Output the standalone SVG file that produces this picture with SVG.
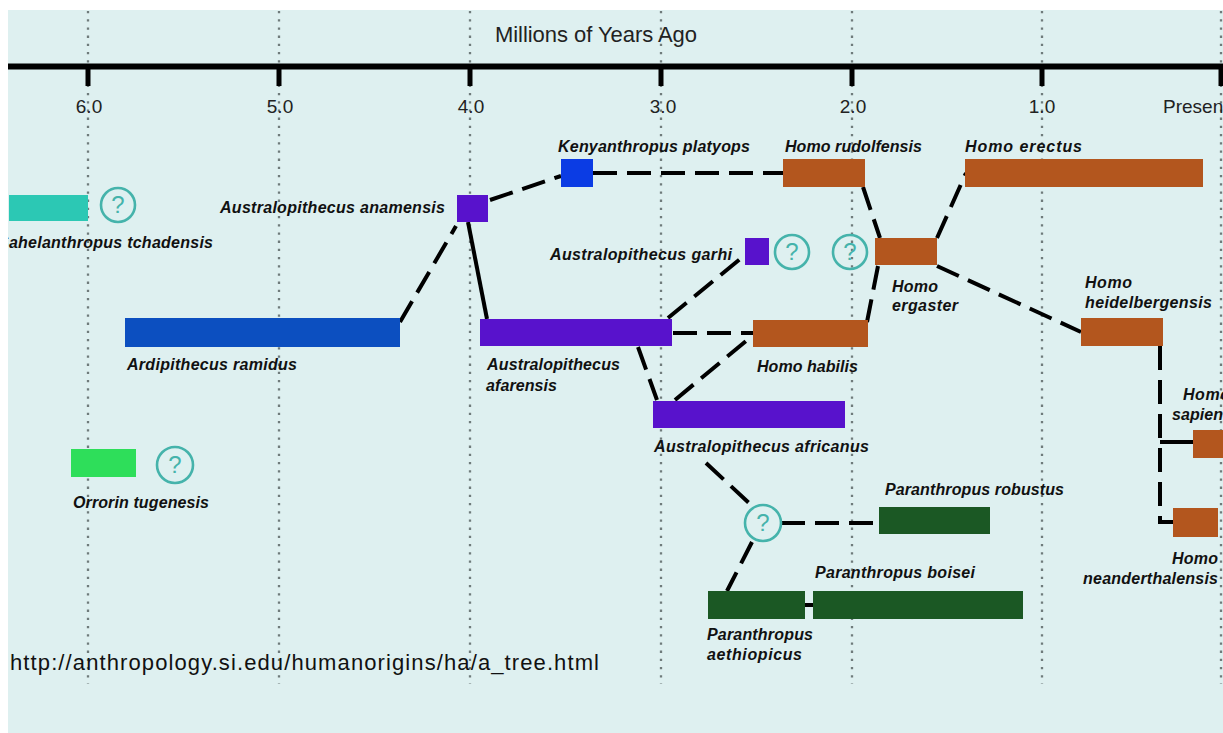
<svg xmlns="http://www.w3.org/2000/svg" width="1223" height="733" viewBox="0 0 1223 733">
<defs>
<style>
.bg{fill:#def0f0}
.grid{stroke:#6f7b7b;stroke-width:2.3;stroke-dasharray:2.3 5.9;fill:none}
.axis{stroke:#000;stroke-width:6;fill:none}
.tick{stroke:#000;stroke-width:5;fill:none}
.ax{font-family:"Liberation Sans",Arial,sans-serif;font-size:19px;fill:#222}
.title{font-family:"Liberation Sans",Arial,sans-serif;font-size:22px;fill:#222}
.lbl{font-family:"Liberation Sans",Arial,sans-serif;font-size:16px;font-weight:bold;font-style:italic;fill:#111}
.url{font-family:"Liberation Sans",Arial,sans-serif;font-size:22px;fill:#111}
.dash{stroke:#000;stroke-width:4;fill:none;stroke-dasharray:24 10}
.solid{stroke:#000;stroke-width:4;fill:none}
.q circle{fill:none;stroke:#45b3ab;stroke-width:2.6}
.q text{font-family:"Liberation Sans",Arial,sans-serif;font-size:24px;fill:#45b3ab;text-anchor:middle}
.teal{fill:#2cc8b4}
.ardi{fill:#0c4fc0}
.kenya{fill:#0b3ce4}
.purple{fill:#5812cc}
.brown{fill:#b3561e}
.lgreen{fill:#2ede5a}
.dgreen{fill:#1b5824}
</style>
<clipPath id="bgclip"><rect x="8" y="10" width="1215" height="723"/></clipPath>
</defs>

<rect class="bg" x="8" y="10" width="1215" height="723"/>

<g id="grid">
<line class="grid" x1="88" y1="11" x2="88" y2="684"/>
<line class="grid" x1="279" y1="11" x2="279" y2="684"/>
<line class="grid" x1="470" y1="11" x2="470" y2="684"/>
<line class="grid" x1="661" y1="11" x2="661" y2="684"/>
<line class="grid" x1="852" y1="11" x2="852" y2="684"/>
<line class="grid" x1="1042" y1="11" x2="1042" y2="684"/>
<line class="grid" x1="1221" y1="11" x2="1221" y2="684"/>
</g>

<g id="axis">
<text class="title" x="495" y="42" textLength="202">Millions of Years Ago</text>
<line class="axis" x1="8" y1="66.5" x2="1223" y2="66.5"/>
<line class="tick" x1="88" y1="66" x2="88" y2="86"/>
<line class="tick" x1="279" y1="66" x2="279" y2="86"/>
<line class="tick" x1="470" y1="66" x2="470" y2="86"/>
<line class="tick" x1="661" y1="66" x2="661" y2="86"/>
<line class="tick" x1="852" y1="66" x2="852" y2="86"/>
<line class="tick" x1="1042" y1="66" x2="1042" y2="86"/>
<line class="tick" x1="1221" y1="66" x2="1221" y2="86"/>
<text class="ax" x="89" y="113" text-anchor="middle">6.0</text>
<text class="ax" x="280" y="113" text-anchor="middle">5.0</text>
<text class="ax" x="471" y="113" text-anchor="middle">4.0</text>
<text class="ax" x="663" y="113" text-anchor="middle">3.0</text>
<text class="ax" x="853" y="113" text-anchor="middle">2.0</text>
<text class="ax" x="1042" y="113" text-anchor="middle">1.0</text>
<text class="ax" x="1163" y="113">Present</text>
</g>

<g id="connectors">
<line class="dash" x1="400" y1="322" x2="456" y2="226"/>
<line class="solid" x1="468" y1="222" x2="487" y2="319"/>
<line class="dash" x1="490" y1="200" x2="561" y2="176"/>
<line class="dash" x1="593" y1="173" x2="783" y2="173"/>
<line class="dash" x1="668" y1="318" x2="745" y2="255"/>
<line class="dash" x1="673" y1="333" x2="753" y2="333"/>
<line class="dash" x1="638" y1="347" x2="657" y2="400"/>
<line class="dash" x1="675" y1="400" x2="752" y2="336"/>
<line class="dash" x1="863" y1="187" x2="880" y2="238"/>
<line class="dash" x1="878" y1="266" x2="867" y2="322"/>
<line class="dash" x1="937" y1="238" x2="966" y2="173"/>
<line class="dash" x1="937" y1="266" x2="1081" y2="332"/>
<path class="dash" d="M1160 346 V522"/>
<path class="solid" d="M1160 518 V522 H1174"/>
<line class="solid" x1="1160" y1="442" x2="1194" y2="442"/>
<line class="dash" x1="706" y1="463" x2="749" y2="503"/>
<line class="dash" x1="781" y1="523" x2="879" y2="523"/>
<line class="dash" x1="752" y1="542" x2="727" y2="591"/>
<line class="solid" x1="805" y1="605" x2="813" y2="605"/>
</g>

<g id="sahelanthropus">
<rect class="teal" x="9" y="195" width="79" height="26"/>
<g class="q"><circle cx="118" cy="205" r="17"/><text x="118" y="213">?</text></g>
<text class="lbl" x="-2" y="248" textLength="215" clip-path="url(#bgclip)">Sahelanthropus tchadensis</text>
</g>

<g id="orrorin">
<rect class="lgreen" x="71" y="449" width="65" height="28"/>
<g class="q"><circle cx="175" cy="465" r="18"/><text x="175" y="473">?</text></g>
<text class="lbl" x="73" y="508" textLength="136">Orrorin tugenesis</text>
</g>

<g id="ardipithecus">
<rect class="ardi" x="125" y="318" width="275" height="29"/>
<text class="lbl" x="127" y="370" textLength="170">Ardipithecus ramidus</text>
</g>

<g id="anamensis">
<rect class="purple" x="457" y="195" width="31" height="27"/>
<text class="lbl" x="220" y="213" textLength="225">Australopithecus anamensis</text>
</g>

<g id="kenyanthropus">
<rect class="kenya" x="561" y="159" width="32" height="28"/>
<text class="lbl" x="558" y="152" textLength="192">Kenyanthropus platyops</text>
</g>

<g id="garhi">
<rect class="purple" x="745" y="238" width="24" height="27"/>
<text class="lbl" x="550" y="260" textLength="182">Australopithecus garhi</text>
<g class="q"><circle cx="792" cy="252" r="17"/><text x="792" y="260">?</text></g>
</g>

<g id="unknown-ergaster">
<g class="q"><circle cx="850" cy="252" r="17"/><text x="850" y="260">?</text></g>
</g>

<g id="afarensis">
<rect class="purple" x="480" y="319" width="192" height="27"/>
<text class="lbl" x="487" y="370" textLength="133">Australopithecus</text>
<text class="lbl" x="486" y="391" textLength="71">afarensis</text>
</g>

<g id="africanus">
<rect class="purple" x="653" y="401" width="192" height="27"/>
<text class="lbl" x="654" y="452" textLength="215">Australopithecus africanus</text>
</g>

<g id="rudolfensis">
<rect class="brown" x="783" y="159" width="82" height="28"/>
<text class="lbl" x="785" y="152" textLength="137">Homo rudolfensis</text>
</g>

<g id="habilis">
<rect class="brown" x="753" y="320" width="115" height="27"/>
<text class="lbl" x="757" y="372" textLength="101">Homo habilis</text>
</g>

<g id="ergaster">
<rect class="brown" x="875" y="238" width="62" height="27"/>
<text class="lbl" x="892" y="292" textLength="46">Homo</text>
<text class="lbl" x="892" y="311" textLength="66">ergaster</text>
</g>

<g id="erectus">
<rect class="brown" x="965" y="159" width="238" height="28"/>
<text class="lbl" x="965" y="152" textLength="117">Homo erectus</text>
</g>

<g id="heidelbergensis">
<rect class="brown" x="1081" y="318" width="82" height="28"/>
<text class="lbl" x="1085" y="288" textLength="47">Homo</text>
<text class="lbl" x="1085" y="308" textLength="127">heidelbergensis</text>
</g>

<g id="sapiens">
<rect class="brown" x="1193" y="430" width="32" height="28"/>
<text class="lbl" x="1183" y="400" textLength="47">Homo</text>
<text class="lbl" x="1172" y="420" textLength="60">sapiens</text>
</g>

<g id="neanderthalensis">
<rect class="brown" x="1173" y="508" width="45" height="29"/>
<text class="lbl" x="1172" y="564" textLength="46">Homo</text>
<text class="lbl" x="1083" y="584" textLength="135">neanderthalensis</text>
</g>

<g id="unknown-paranthropus">
<g class="q"><circle cx="763" cy="523" r="18"/><text x="763" y="531">?</text></g>
</g>

<g id="robustus">
<rect class="dgreen" x="879" y="507" width="111" height="27"/>
<text class="lbl" x="885" y="495" textLength="179">Paranthropus robustus</text>
</g>

<g id="aethiopicus">
<rect class="dgreen" x="708" y="591" width="97" height="28"/>
<text class="lbl" x="707" y="640" textLength="106">Paranthropus</text>
<text class="lbl" x="707" y="660" textLength="95">aethiopicus</text>
</g>

<g id="boisei">
<rect class="dgreen" x="813" y="591" width="210" height="28"/>
<text class="lbl" x="815" y="578" textLength="160">Paranthropus boisei</text>
</g>

<g id="source">
<text class="url" x="10" y="670" textLength="589">http://anthropology.si.edu/humanorigins/ha/a_tree.html</text>
</g>
</svg>
